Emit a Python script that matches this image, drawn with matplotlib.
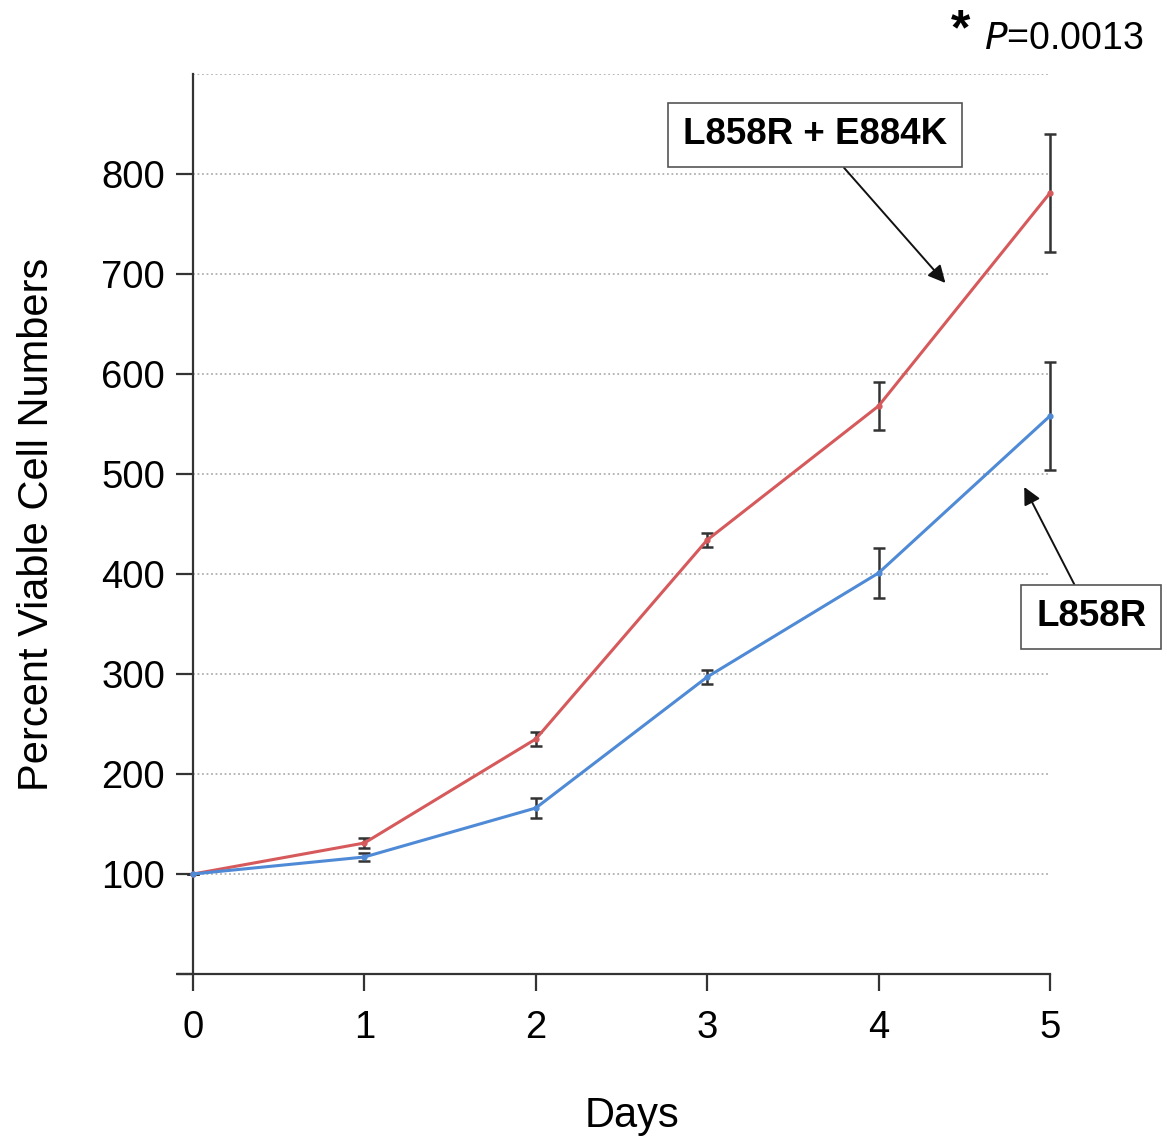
import matplotlib.pyplot as plt
import numpy as np

plt.rcParams['font.family'] = ['Liberation Sans', 'DejaVu Sans']

days = [0, 1, 2, 3, 4, 5]
mut_vals = [100, 131, 235, 434, 568, 781]
mut_err = [0, 5, 7, 7, 24, 59]
l858r_vals = [100, 117, 166, 297, 401, 558]
l858r_err = [0, 4, 10, 7, 25, 54]
grid_levels = [100, 200, 300, 400, 500, 600, 700, 800, 900]

red = '#d65a5c'
blue = '#4f8ad6'

fig = plt.figure(figsize=(11.67, 11.36), dpi=100)
ax = fig.add_axes([0.1654, 0.1426, 0.7343, 0.7923])

ax.hlines(grid_levels, 0, 5, colors='#b0b0b0', linestyles=(0, (1, 1.5)), lw=1.3, zorder=0)

for vals, err, col in [(mut_vals, mut_err, red), (l858r_vals, l858r_err, blue)]:
    eb = ax.errorbar(days, vals, yerr=err, color=col, lw=2.2, marker='o', ms=3.5,
                     ecolor='#333333', elinewidth=1.8, capsize=4, capthick=1.8, zorder=3)
    for art in eb.lines[1]:
        art.set_clip_on(False)
    for art in eb.lines[2]:
        art.set_clip_on(False)
    eb.lines[0].set_clip_on(False)

ax.set_xlim(0, 5)
ax.set_ylim(0, 900)
ax.set_xticks(days)
ax.set_yticks(range(0, 900, 100))
ax.set_yticklabels([''] + [str(v) for v in range(100, 900, 100)])

for s in ['top', 'right']:
    ax.spines[s].set_visible(False)
for s in ['left', 'bottom']:
    ax.spines[s].set_linewidth(1.6)
    ax.spines[s].set_color('#333333')
ax.spines['bottom'].set_bounds(-0.09, 5)
ax.tick_params(axis='both', direction='out', length=12, width=1.6, color='#333333',
               labelsize=27.5, pad=8)
ax.tick_params(axis='x', pad=14)

ax.set_xlabel('Days', fontsize=30)
ax.xaxis.set_label_coords(0.512, -0.135)
ax.set_ylabel('Percent Viable Cell Numbers', fontsize=30)
ax.yaxis.set_label_coords(-0.159, 0.5)

box = dict(boxstyle='square,pad=0.4', fc='white', ec='#555555', lw=1.2)
arrow = dict(arrowstyle='-|>', color='#111111', lw=1.4, mutation_scale=26, shrinkA=0, shrinkB=0)
ax.annotate('L858R + E884K', xy=(4.39, 691), xytext=(3.63, 839), fontsize=26.5,
            fontweight='bold', ha='center', va='center', bbox=box, zorder=5,
            arrowprops=arrow, annotation_clip=False)
ax.annotate('L858R', xy=(4.85, 487), xytext=(5.24, 357), fontsize=26.5,
            fontweight='bold', ha='center', va='center', bbox=box, zorder=5,
            arrowprops=arrow, annotation_clip=False)

fig.text(0.823, 0.972, '*', fontsize=36, fontweight='bold', ha='center', va='center')
fig.text(0.843, 0.966, r'$\it{P}$' + '=0.0013', fontsize=27, ha='left', va='center')

fig.savefig('out.png', dpi=100)
